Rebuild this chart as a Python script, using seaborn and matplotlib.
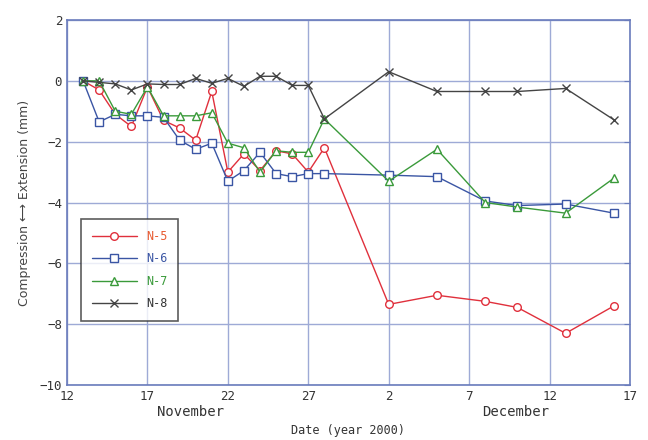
import pandas as pd
import numpy as np
import matplotlib
matplotlib.use("Agg")
import matplotlib.pyplot as plt
import seaborn as sns

# Survey dates (year 2000)
dates = ["2000-11-13", "2000-11-14", "2000-11-15", "2000-11-16", "2000-11-17",
         "2000-11-18", "2000-11-19", "2000-11-20", "2000-11-21", "2000-11-22",
         "2000-11-23", "2000-11-24", "2000-11-25", "2000-11-26", "2000-11-27",
         "2000-11-28", "2000-12-02", "2000-12-05", "2000-12-08", "2000-12-10",
         "2000-12-13", "2000-12-16"]

n5 = [0.0, -0.3, -1.1, -1.5, -0.2, -1.3, -1.55, -1.95, -0.35, -3.0, -2.4,
      -2.95, -2.3, -2.4, -3.0, -2.2, -7.35, -7.05, -7.25, -7.45, -8.3, -7.4]
n6 = [0.0, -1.35, -1.1, -1.15, -1.15, -1.2, -1.95, -2.25, -2.05, -3.3, -2.95,
      -2.35, -3.05, -3.15, -3.05, -3.05, -3.1, -3.15, -3.95, -4.1, -4.05, -4.35]
n7 = [0.0, 0.0, -1.0, -1.1, -0.2, -1.15, -1.15, -1.15, -1.05, -2.05, -2.2,
      -3.0, -2.3, -2.35, -2.35, -1.25, -3.3, -2.25, -4.0, -4.15, -4.35, -3.2]
n8 = [0.0, -0.05, -0.1, -0.3, -0.1, -0.12, -0.12, 0.08, -0.08, 0.08, -0.18,
      0.15, 0.15, -0.15, -0.15, -1.25, 0.3, -0.35, -0.35, -0.35, -0.25, -1.28]

series_names = ["N-5", "N-6", "N-7", "N-8"]
tick_dates = ["2000-11-12", "2000-11-17", "2000-11-22", "2000-11-27",
              "2000-12-02", "2000-12-07", "2000-12-12", "2000-12-17"]
tick_labels = ["12", "17", "22", "27", "2", "7", "12", "17"]
y_ticks = [2, 0, -2, -4, -6, -8, -10]

colors = {"N-5": "#e0303c", "N-6": "#3a55a4", "N-7": "#3a9a3a", "N-8": "#444444"}
text_colors = {"N-5": "#e85a30", "N-6": "#3a55a4", "N-7": "#3a9a3a", "N-8": "#333333"}
markers = {"N-5": "o", "N-6": "s", "N-7": "^", "N-8": "x"}

df = pd.DataFrame({"date": pd.to_datetime(dates), "N-5": n5, "N-6": n6, "N-7": n7, "N-8": n8})
long = df.melt(id_vars="date", var_name="gauge", value_name="disp")

sns.set_style("white")
plt.rcParams["font.family"] = ["DejaVu Sans Mono", "DejaVu Sans"]

fig = plt.figure(figsize=(6.48, 4.40), dpi=100)
ax = fig.add_axes([0.1034, 0.125, 0.8688, 0.8295])

grid_col = "#9eaad6"
for name in series_names:
    sub = long[long["gauge"] == name]
    sns.lineplot(data=sub, x="date", y="disp", ax=ax, color=colors[name],
                 marker=markers[name], markersize=5.5, markerfacecolor="white",
                 markeredgecolor=colors[name], markeredgewidth=1.0,
                 linewidth=1.0, label=name)

ax.set_xlim(pd.Timestamp("2000-11-12"), pd.Timestamp("2000-12-17"))
ax.set_ylim(-10, 2)
ax.set_xticks(pd.to_datetime(tick_dates))
ax.set_xticklabels(tick_labels)
ax.set_yticks(y_ticks)
ax.set_yticklabels([str(v).replace("-", "\u2212") for v in y_ticks])
ax.grid(True, color=grid_col, linewidth=1.0)
for sp in ax.spines.values():
    sp.set_color("#6a7cbc")
    sp.set_linewidth(1.2)
ax.tick_params(axis="both", direction="in", length=4, color="#6a7cbc",
               labelsize=9, labelcolor="#333333", right=True)
ax.set_xlabel("")
ax.set_ylabel("Compression \u27f7 Extension (mm)", fontsize=9, color="#444444",
              family=["DejaVu Sans"], labelpad=6)

# month labels and axis title
ax.text(0.22, -0.075, "November", transform=ax.transAxes, ha="center", va="center",
        fontsize=10, color="#333333")
ax.text(0.797, -0.075, "December", transform=ax.transAxes, ha="center", va="center",
        fontsize=10, color="#333333")
ax.text(0.5, -0.125, "Date (year 2000)", transform=ax.transAxes, ha="center", va="center",
        fontsize=8.5, color="#333333")

leg = ax.legend(loc="upper left", bbox_to_anchor=(0.015, 0.47), frameon=True,
                fancybox=False, handlelength=3.8, borderpad=0.9, labelspacing=0.8,
                fontsize=8.5, edgecolor="#333333")
leg.get_frame().set_linewidth(1.2)
for txt in leg.get_texts():
    txt.set_color(text_colors[txt.get_text()])

fig.savefig("out.png", dpi=100)
